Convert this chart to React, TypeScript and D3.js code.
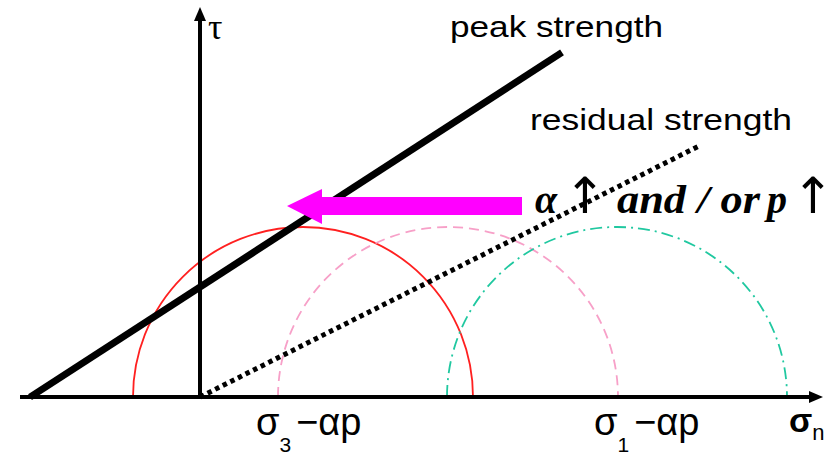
import React from 'react';
import * as d3 from 'd3';

// stress space: sigma_n along x, tau up
const sigmaRange = [-18, 62];
const tauRange = [0, 39];

// Mohr circles (centre, radius) for the three stress states
const circleNames = ['initial', 'shifted', 'final'];
const circleCentres = [10.3, 24.8, 41.7];
const circleRadii = [17, 17, 17];
const circleColours = ['#ff2020', '#f7a0c8', '#20c8a0'];
const circleDashes = ['none', '10 6', '12 5 2 5'];

// failure envelopes: tau = c + slope * sigma
const envelopeNames = ['peak strength', 'residual strength'];
const envelopeCohesion = [11, 0];
const envelopeSlope = [0.648, 0.503];
const envelopeFrom = [-17, 0];
const envelopeTo = [36.2, 50];

// shift arrow (sigma from, sigma to, tau level)
const shiftArrow = [32.2, 8.7, 19.1];

const W = 834;
const H = 455;

const App = () => {
    const x = d3.scaleLinear().domain(sigmaRange).range([20, 820]);
    const y = d3.scaleLinear().domain(tauRange).range([397, 7]);

    const semi = (c: number, r: number) => {
        const p = d3.path();
        const rr = x(r) - x(0);
        p.arc(x(c), y(0), rr, Math.PI, 2 * Math.PI, false);
        return p.toString();
    };

    const line = d3.line<number[]>().x(d => x(d[0])).y(d => y(d[1]));
    const envelope = (i: number) => line([
        [envelopeFrom[i], envelopeCohesion[i] + envelopeSlope[i] * envelopeFrom[i]],
        [envelopeTo[i], envelopeCohesion[i] + envelopeSlope[i] * envelopeTo[i]],
    ]) || '';

    const arrowY = y(shiftArrow[2]);
    const tipX = x(shiftArrow[1]);
    const tailX = x(shiftArrow[0]);

    return (
        <svg width={W} height={H} style={{ position: 'absolute', left: 0, top: 0, background: '#fff' }}>
            {/* circles */}
            {circleNames.map((n, i) => (
                <path key={n} d={semi(circleCentres[i], circleRadii[i])} fill="none"
                    stroke={circleColours[i]} strokeWidth={1.8} strokeDasharray={circleDashes[i]} />
            ))}

            {/* axes */}
            <line x1={x(sigmaRange[0])} x2={x(61.2)} y1={y(0)} y2={y(0)} stroke="#000" strokeWidth={4} />
            <path d={`M${x(62.3)},${y(0)} l-14,-6 l0,12 z`} fill="#000" />
            <line x1={x(0)} x2={x(0)} y1={y(0)} y2={y(37.8)} stroke="#000" strokeWidth={4} />
            <path d={`M${x(0)},${y(39)} l-6,14 l12,0 z`} fill="#000" />

            {/* envelopes */}
            <path d={envelope(0)} stroke="#000" strokeWidth={7} fill="none" />
            <path d={envelope(1)} stroke="#000" strokeWidth={5} strokeDasharray="4.5 4" fill="none" />

            {/* shift arrow */}
            <rect x={tipX + 35} y={arrowY - 9} width={tailX - tipX - 35} height={18} fill="#ff00ff" />
            <path d={`M${tipX},${arrowY} L${tipX + 35},${arrowY - 17} L${tipX + 35},${arrowY + 18} z`} fill="#ff00ff" />

            {/* labels */}
            <g fontFamily="'Liberation Sans', Arial, sans-serif" fill="#000">
                <text x={450} y={37} fontSize={30} textLength={213} lengthAdjust="spacingAndGlyphs">{envelopeNames[0]}</text>
                <text x={530} y={130} fontSize={30} textLength={262} lengthAdjust="spacingAndGlyphs">{envelopeNames[1]}</text>
                <text x={208} y={39} fontSize={36} fontFamily="'Liberation Serif', serif">τ</text>
                <text x={256} y={435} fontSize={38}>
                    <tspan>σ</tspan><tspan fontSize={21} dy={17}>3</tspan><tspan dy={-17} dx={5}>−αp</tspan>
                </text>
                <text x={594} y={435} fontSize={38}>
                    <tspan>σ</tspan><tspan fontSize={21} dy={17}>1</tspan><tspan dy={-17} dx={5}>−αp</tspan>
                </text>
                <text x={789} y={432} fontSize={34} fontWeight="bold">
                    <tspan>σ</tspan><tspan fontSize={22} fontWeight="normal" dy={8}>n</tspan>
                </text>
            </g>
            <g fontFamily="'Liberation Serif', 'Times New Roman', serif" fontSize={40} fontStyle="italic" fontWeight="bold" fill="#000">
                <text x={535} y={213}>α</text>
                <text x={617} y={213} textLength={143} lengthAdjust="spacingAndGlyphs">and / or</text>
                <text x={767} y={213}>p</text>
            </g>
            <g fontFamily="'DejaVu Sans', sans-serif" fontSize={50} fill="#000">
                <text x={585} y={213} textAnchor="middle">↑</text>
                <text x={813} y={213} textAnchor="middle">↑</text>
            </g>
        </svg>
    );
};

export default App;
